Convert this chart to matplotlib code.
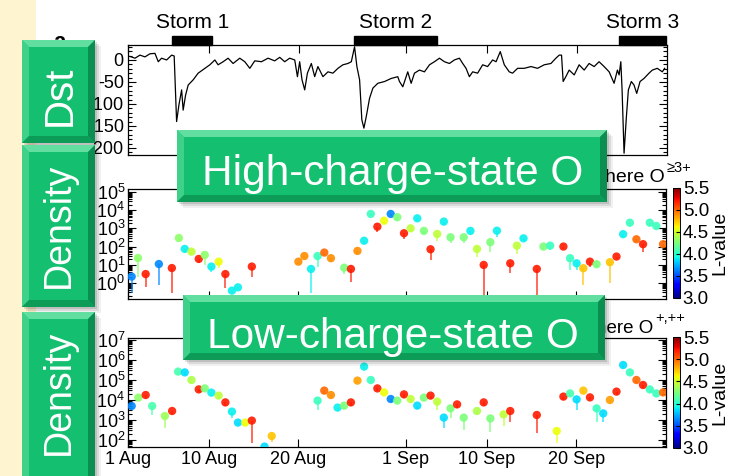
import numpy as np
import matplotlib
matplotlib.use('Agg')
import matplotlib.pyplot as plt
from matplotlib.patches import Rectangle, Polygon
from matplotlib.colors import Normalize
from matplotlib.cm import ScalarMappable
from matplotlib.ticker import LogLocator, NullFormatter, MultipleLocator
import matplotlib.transforms as mtransforms

plt.rcParams['font.family'] = ['Liberation Sans Narrow', 'Liberation Sans', 'DejaVu Sans']
plt.rcParams['mathtext.fontset'] = 'custom'
plt.rcParams['mathtext.rm'] = 'Liberation Sans'
plt.rcParams['mathtext.it'] = 'Liberation Sans'
plt.rcParams['mathtext.bf'] = 'Liberation Sans'
plt.rcParams['axes.unicode_minus'] = False

# days since 1 Aug 00 UT
date_ticks = [0, 9, 19, 31, 40, 50]
date_labels = ['1 Aug', '10 Aug', '20 Aug', '1 Sep', '10 Sep', '20 Sep']

storm_names = ['Storm 1', 'Storm 2', 'Storm 3']
storm_start = [4.9, 25.2, 54.7]
storm_end = [9.4, 34.4, 59.9]

# Dst index (nT)
dst_day = [0.22, 0.78, 1.33, 1.89, 2.44, 3.00, 3.37, 3.74, 4.30, 4.86,
           5.14, 5.41, 5.67, 5.97, 6.14, 6.41, 6.70, 7.26, 7.81, 8.56,
           9.11, 9.67, 10.03, 10.59, 11.14, 11.70, 12.44, 13.00, 13.56, 14.11,
           14.86, 15.59, 16.33, 16.89, 17.44, 18.00, 18.56, 18.86, 19.11, 19.37,
           19.67, 19.97, 20.41, 20.78, 21.14, 21.70, 22.26, 22.81, 23.37, 23.92,
           24.48, 24.86, 25.22, 25.48, 25.78, 26.03, 26.26, 26.52, 26.89, 27.26,
           27.81, 28.56, 29.30, 30.03, 30.22, 30.59, 31.14, 31.52, 31.89, 32.44,
           33.00, 33.56, 34.11, 34.67, 35.22, 35.78, 36.33, 36.89, 37.26, 37.63,
           38.00, 38.37, 38.92, 39.48, 40.03, 40.59, 40.97, 41.44, 41.89, 42.44,
           42.81, 43.37, 44.11, 44.86, 45.59, 46.33, 47.08, 47.63, 48.00, 48.26,
           48.44, 48.74, 49.11, 49.67, 50.22, 50.78, 51.33, 51.89, 52.44, 53.00,
           53.56, 54.11, 54.48, 54.67, 54.86, 55.00, 55.22, 55.48, 55.70, 56.03,
           56.33, 56.63, 57.00, 57.44, 58.00, 58.37, 58.92, 59.48, 59.74]
dst_val = [8, 4, 11, 7, 14, 15, -4, 4, 0, 11,
           9, -140, -102, -68, -114, -80, -57, -45, -30, -19,
           -11, 0, -11, -4, 4, -8, 4, -4, -19, -2,
           -4, 4, -2, 6, -4, 4, 0, -38, -4, -45,
           -68, -30, -8, -38, -15, -38, -27, -30, -19, -11,
           -8, -4, 30, -15, -45, -136, -155, -129, -87, -64,
           -53, -49, -42, -38, -49, -61, -27, -53, -30, -23,
           -27, -11, -4, 4, -4, -8, 0, 4, -8, -19,
           -38, -27, -30, -11, -15, 0, -4, 19, -11, -27,
           -30, -19, -19, -15, -19, -11, -8, 4, 11, 11,
           -49, -38, -23, -34, -11, -23, -8, -15, -4, -15,
           -27, -53, -23, -34, -4, -68, -212, -129, -68, -49,
           -57, -76, -49, -42, -30, -23, -19, -27, -19]

# high-charge-state O density: log10 value, lower end of error bar, L-value
hi_day = [0.41, 1.11, 1.97, 3.44, 4.89, 5.67, 6.33, 7.08, 7.89, 8.56,
          9.30, 10.11, 10.86, 11.59, 12.26, 13.81, 19.00, 19.67, 20.41, 21.14,
          21.89, 22.63, 24.11, 24.86, 25.59, 26.33, 27.08, 27.81, 28.56, 29.30,
          30.03, 30.78, 31.52, 32.26, 33.00, 33.74, 34.48, 35.22, 35.97, 37.44,
          38.19, 38.92, 39.67, 40.41, 41.14, 42.63, 43.37, 44.11, 45.59, 46.33,
          47.08, 48.56, 49.30, 50.03, 50.78, 51.52, 52.26, 53.74, 54.48, 55.22,
          55.97, 56.70, 57.44, 58.19, 58.92, 59.67]
hi_logn = [0.35, 1.37, 0.49, 1.04, 0.82, 2.47, 1.87, 1.72, 1.32, 1.54,
           0.90, 1.17, 0.49, -0.42, -0.24, 0.90, 1.17, 1.48, 0.77, 1.48,
           1.67, 1.36, 0.84, 0.77, 1.76, 2.32, 3.79, 3.09, 3.42, 3.79,
           3.61, 2.73, 3.00, 3.55, 2.86, 1.85, 2.69, 3.37, 2.51, 2.51,
           2.86, 1.87, 0.99, 2.24, 2.87, 1.08, 2.05, 2.45, 0.77, 2.00,
           2.05, 2.00, 1.36, 1.08, 0.81, 1.17, 1.03, 1.14, 1.45, 2.68,
           3.31, 2.40, 2.13, 3.31, 3.13, 2.13]
hi_lo = [-0.55, 0.33, -0.22, -0.11, -0.55, 2.35, 1.72, 1.55, 1.10, 0.99,
         0.60, 0.80, -0.27, -0.55, -0.35, 0.33, 1.05, 1.35, -0.55, 0.90,
         1.55, 1.22, 0.50, 0.05, 1.62, 2.15, 3.65, 2.80, 3.25, 3.65,
         3.45, 2.40, 2.80, 3.40, 2.70, 1.26, 2.30, 3.20, 2.20, 2.20,
         2.70, 1.40, -0.77, 1.70, 2.50, 0.55, 1.60, 2.30, -0.77, 1.80,
         1.80, 1.85, 0.71, 0.70, -0.11, 0.90, 0.80, 0.00, 1.30, 2.50,
         3.15, 2.25, 1.70, 3.15, 2.95, 1.95]
hi_L = [3.65, 4.3, 5.2, 3.65, 5.2, 4.3, 3.9, 4.45, 5.2, 4.3,
        3.9, 4.6, 5.2, 3.9, 3.9, 5.2, 4.9, 4.9, 3.9, 4.05,
        5.0, 4.9, 4.25, 5.2, 4.9, 3.9, 4.05, 5.2, 4.6, 3.65,
        4.25, 5.2, 4.45, 3.9, 4.25, 5.2, 4.45, 3.9, 4.25, 4.25,
        3.9, 4.45, 5.2, 4.25, 3.9, 5.2, 4.45, 3.9, 5.2, 4.25,
        4.05, 5.2, 4.05, 3.9, 4.75, 5.2, 4.25, 4.75, 5.2, 3.9,
        4.05, 5.0, 5.2, 4.05, 4.05, 5.0]

# low-charge-state O density
lo_day = [0.41, 1.15, 1.97, 2.70, 4.11, 4.92, 5.59, 6.33, 7.08, 7.89,
          8.56, 9.30, 10.11, 10.86, 11.59, 12.26, 13.08, 13.81, 15.22, 16.03,
          21.14, 21.89, 22.63, 23.37, 24.11, 24.86, 25.59, 26.33, 27.08, 27.81,
          28.56, 29.30, 30.03, 30.78, 31.52, 32.26, 33.00, 33.74, 34.48, 35.22,
          35.97, 36.70, 37.44, 38.92, 39.67, 40.41, 41.89, 42.63, 45.59, 47.81,
          48.56, 49.30, 50.03, 50.78, 51.52, 52.26, 53.00, 53.74, 54.48, 55.22,
          55.97, 56.70, 57.44, 58.19, 58.92, 59.67]
lo_logn = [3.70, 4.12, 4.25, 3.70, 3.20, 3.45, 5.42, 5.38, 5.00, 4.53,
           4.58, 4.37, 4.22, 3.88, 3.42, 2.87, 2.87, 2.97, 1.67, 2.20,
           3.97, 4.47, 4.25, 3.62, 3.72, 3.88, 4.97, 5.67, 5.00, 4.58,
           4.38, 4.05, 3.97, 4.28, 4.05, 3.72, 4.12, 4.22, 3.92, 3.12,
           3.58, 3.78, 3.12, 3.45, 3.88, 3.08, 3.28, 3.45, 3.25, 2.45,
           4.17, 4.33, 4.03, 4.47, 4.13, 3.58, 3.33, 4.00, 4.42, 5.75,
           5.38, 5.00, 4.75, 4.53, 4.33, 4.38]
lo_lo = [3.55, 3.95, 4.10, 3.25, 2.60, 3.30, 5.30, 5.25, 4.85, 4.40,
         4.45, 4.22, 4.05, 3.72, 3.10, 2.75, 2.72, 1.85, 1.60, 1.90,
         3.50, 4.32, 4.12, 3.45, 3.55, 3.72, 4.85, 5.55, 4.87, 4.45,
         4.25, 3.90, 3.82, 4.12, 3.90, 3.55, 3.97, 4.05, 3.50, 2.60,
         3.10, 3.60, 2.50, 3.30, 3.70, 2.40, 2.70, 2.90, 2.35, 1.85,
         4.02, 4.18, 3.50, 4.32, 3.98, 2.90, 2.90, 3.85, 4.27, 5.62,
         5.25, 4.87, 4.60, 4.40, 4.20, 4.22]
lo_L = [3.65, 4.3, 5.2, 4.1, 4.35, 5.2, 4.1, 3.85, 4.4, 5.2,
        4.25, 3.9, 4.45, 5.2, 3.9, 3.85, 4.6, 5.2, 3.85, 4.75,
        4.05, 5.0, 4.9, 3.9, 4.25, 5.2, 4.85, 3.9, 4.05, 5.2,
        4.6, 3.65, 4.25, 5.2, 4.45, 3.85, 4.25, 5.2, 4.45, 3.85,
        4.25, 5.2, 4.25, 4.4, 5.2, 4.25, 4.45, 5.2, 5.2, 4.6,
        5.2, 4.1, 3.85, 4.75, 5.2, 4.05, 3.85, 4.85, 5.2, 3.85,
        4.05, 5.0, 5.2, 4.05, 4.05, 5.0]

L_ticks = [3.0, 3.5, 4.0, 4.5, 5.0, 5.5]

W, H = 735, 476
GREEN = '#14c070'
norm = Normalize(3.0, 5.5)
cmap = plt.get_cmap('jet')

fig = plt.figure(figsize=(W / 100, H / 100), dpi=100)


def px_axes(x0, y0, x1, y1, **kw):
    return fig.add_axes([x0 / W, 1 - y1 / H, (x1 - x0) / W, (y1 - y0) / H], **kw)


def style_axis(ax):
    ax.set_xlim(0, 60)
    ax.set_xticks(date_ticks)
    ax.tick_params(which='both', direction='in', top=True, right=True,
                   labelsize=13, pad=3, width=0.8)
    ax.tick_params(which='major', length=6)
    ax.tick_params(which='minor', length=3)
    for s in ax.spines.values():
        s.set_linewidth(0.9)


def density_panel(ax, day, logn, lo, L, ylog):
    day = np.array(day)
    n = 10 ** np.array(logn)
    nlo = 10 ** np.array(lo)
    cols = cmap(norm(np.array(L)))
    ax.vlines(day, nlo, n, colors=cols, lw=1.3, alpha=0.7, zorder=2)
    ax.scatter(day, n, c=cols, s=36, edgecolors='none', alpha=0.9, zorder=3)
    ax.set_yscale('log')
    ax.set_ylim(10 ** ylog[0], 10 ** ylog[1])
    ax.yaxis.set_minor_locator(LogLocator(base=10, subs=np.arange(2, 10), numticks=12))
    ax.yaxis.set_minor_formatter(NullFormatter())
    decades = list(range(int(np.ceil(ylog[0])), int(np.floor(ylog[1])) + 1))
    ax.set_yticks([10.0 ** d for d in decades])
    ax.set_yticklabels(['$10^{%d}$' % d for d in decades])
    style_axis(ax)
    ax.tick_params(axis='y', pad=2)


def add_colorbar(cax):
    cb = fig.colorbar(ScalarMappable(norm=norm, cmap=cmap), cax=cax, ticks=L_ticks)
    cb.ax.set_yticklabels(['%.1f' % t for t in L_ticks])
    cb.ax.tick_params(labelsize=13.5, length=3, direction='in', pad=2)
    cb.outline.set_linewidth(0.7)
    cb.set_label('L-value', fontsize=14, labelpad=2)


# Dst panel
ax_dst = px_axes(128, 45, 667, 155)
ax_dst.plot(dst_day, dst_val, color='black', lw=0.9)
ax_dst.set_ylim(-216, 34)
ax_dst.set_yticks([0, -50, -100, -150, -200])
ax_dst.set_yticklabels(['0', '-50', '-100', '-150', '-200'])
ax_dst.yaxis.set_minor_locator(MultipleLocator(10))
style_axis(ax_dst)
ax_dst.set_xticklabels([])

trans = mtransforms.blended_transform_factory(ax_dst.transData, ax_dst.transAxes)
for name, t0, t1 in zip(storm_names, storm_start, storm_end):
    ax_dst.add_patch(Rectangle((t0, 1.0), t1 - t0, 0.082, transform=trans,
                               color='black', clip_on=False))
    ax_dst.text((t0 + t1) / 2, 1.20, name, transform=trans, ha='center',
                va='center', fontsize=15)

ax_hi = px_axes(128, 189, 666, 299)
density_panel(ax_hi, hi_day, hi_logn, hi_lo, hi_L, (-0.88, 5.16))
ax_hi.set_xticklabels([])

ax_lo = px_axes(128, 338, 666, 447)
density_panel(ax_lo, lo_day, lo_logn, lo_lo, lo_L, (1.65, 7.1))
ax_lo.set_xticklabels(date_labels)

add_colorbar(px_axes(673, 188, 680, 298))
add_colorbar(px_axes(673, 337, 680, 448))

# slide overlay: side stripe, panel titles and bevelled labels
ov = fig.add_axes([0, 0, 1, 1], zorder=10)
ov.set_xlim(0, W)
ov.set_ylim(H, 0)
ov.axis('off')
ov.patch.set_alpha(0)

ov.add_patch(Rectangle((0, 0), 36, H, color='#fef4d0', lw=0, zorder=0))
ov.text(60, 43, 'a', fontsize=16, fontweight='bold', ha='center', va='center', zorder=1)

ov.text(665, 182, 'here O', fontsize=14, ha='right', va='baseline', zorder=1)
ov.text(667, 172, u'\u22653+', fontsize=10.5, ha='left', va='baseline', zorder=1)
ov.text(653, 333, 'here O', fontsize=13.5, ha='right', va='baseline', zorder=1)
ov.text(655, 322, '+,++', fontsize=10.5, ha='left', va='baseline', zorder=1)


def bevel_box(x0, y0, x1, y1, b=7):
    for k, a in [(6, 0.06), (4, 0.09), (2, 0.12)]:
        ov.add_patch(Rectangle((x0 + k, y0 + k), x1 - x0, y1 - y0, color='black',
                               alpha=a, lw=0, zorder=4))
    ov.add_patch(Rectangle((x0, y0), x1 - x0, y1 - y0, facecolor=GREEN, lw=0, zorder=5))
    faces = [
        ([(x0, y0), (x1, y0), (x1 - b, y0 + b), (x0 + b, y0 + b)], '#62dea0'),
        ([(x0, y0), (x0 + b, y0 + b), (x0 + b, y1 - b), (x0, y1)], '#3fd18a'),
        ([(x0, y1), (x0 + b, y1 - b), (x1 - b, y1 - b), (x1, y1)], '#0c9c58'),
        ([(x1, y0), (x1, y1), (x1 - b, y1 - b), (x1 - b, y0 + b)], '#0a8f50'),
    ]
    for pts, c in faces:
        ov.add_patch(Polygon(pts, closed=True, facecolor=c, lw=0, zorder=6))


box_font = ['Liberation Sans', 'DejaVu Sans']
bevel_box(22, 40, 95, 143)
ov.text(60, 96, 'Dst', rotation=90, fontsize=29, color='white', ha='center',
        va='center', family=box_font, zorder=7)
bevel_box(22, 145, 95, 307)
ov.text(59, 225, 'Density', rotation=90, fontsize=27, color='white', ha='center',
        va='center', family=box_font, zorder=7)
bevel_box(22, 312, 95, 484)
ov.text(59, 392, 'Density', rotation=90, fontsize=27, color='white', ha='center',
        va='center', family=box_font, zorder=7)

bevel_box(177, 130, 607, 202)
ov.text(393, 185, 'High-charge-state O', fontsize=30.5, color='white', ha='center',
        va='baseline', family=box_font, zorder=7)
bevel_box(183, 295, 605, 360)
ov.text(393, 348, 'Low-charge-state O', fontsize=30.5, color='white', ha='center',
        va='baseline', family=box_font, zorder=7)

fig.savefig('out.png', dpi=100)
